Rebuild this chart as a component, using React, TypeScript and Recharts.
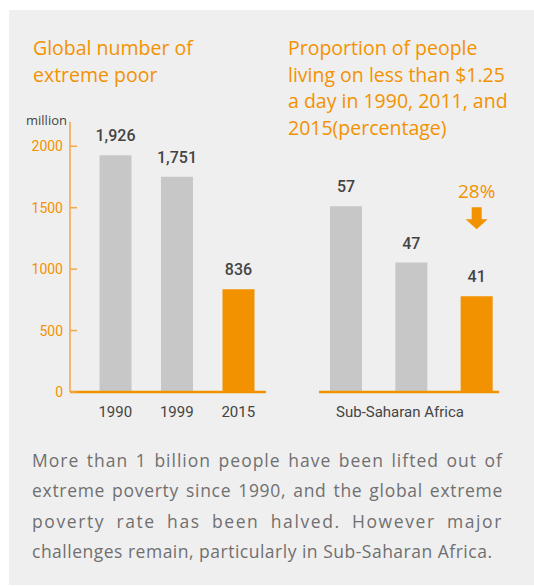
import { BarChart, Bar, XAxis, YAxis, Cell, LabelList } from "recharts";

const poorYears = ["1990", "1999", "2015"];
const poorMillions = [1926, 1751, 836];
const poorTicks = [0, 500, 1000, 1500, 2000];

const propYears = ["1990", "2011", "2015"];
const propPercent = [57, 47, 41];
const propRegion = "Sub-Saharan Africa";
const propDecline = "28%";

const highlightYear = "2015";

const summaryLines = [
  "More than 1 billion people have been lifted out of",
  "extreme poverty since 1990, and the global extreme",
  "poverty rate has been halved. However major",
  "challenges remain, particularly in Sub-Saharan Africa.",
];
// the original spreads the third line by letters rather than words
const summarySpacing = [1.0, 0.7, 1.6, 0.5];

const ORANGE = "#f39200";
const GREY_BAR = "#c6c7c6";
const PANEL = "#efefef";
const DARK = "#444444";
const NUM_FONT = "Roboto, sans-serif";
const TEXT_FONT = "'Open Sans', sans-serif";

const poorData = poorYears.map((year, i) => ({ year, value: poorMillions[i] }));
const propData = propYears.map((year, i) => ({ year, value: propPercent[i] }));

// y ticks on the left chart point inward, so draw them ourselves
const PoorTick = (props: any) => {
  const { x, y, payload } = props;
  return (
    <g>
      <line x1={x + 7} x2={x + 14} y1={y} y2={y} stroke="#f5a54a" strokeWidth={1.5} />
      <text x={x} y={y} dy={5} textAnchor="end" fill={ORANGE} fontSize={14} fontFamily={NUM_FONT}>
        {payload.value}
      </text>
    </g>
  );
};

const RegionTick = (props: any) => {
  const { x, y, index } = props;
  if (index !== 1) return null;
  return (
    <text x={x - 11} y={y} dy={11} textAnchor="middle" fill={DARK} fontSize={15} fontFamily={NUM_FONT}>
      {propRegion}
    </text>
  );
};

const DeclineNote = (props: any) => {
  const vb = props.viewBox ?? props;
  if (props.index !== propData.length - 1) return null;
  const cx = vb.x + vb.width / 2;
  const top = vb.y;
  return (
    <g>
      <text x={cx} y={top - 98} textAnchor="middle" fill={ORANGE} fontSize={19} fontFamily={TEXT_FONT}>
        {propDecline}
      </text>
      <polygon
        points={`${cx - 5},${top - 89} ${cx + 5},${top - 89} ${cx + 5},${top - 77} ${cx + 11},${top - 77} ${cx},${top - 67} ${cx - 11},${top - 77} ${cx - 5},${top - 77}`}
        fill={ORANGE}
      />
    </g>
  );
};

const valueLabel = {
  fill: DARK,
  fontSize: 16,
  fontWeight: 500,
  fontFamily: NUM_FONT,
};

const titleStyle = {
  position: "absolute" as const,
  top: 35,
  color: ORANGE,
  fontFamily: TEXT_FONT,
  fontSize: 19.5,
  lineHeight: "26.7px",
  whiteSpace: "nowrap" as const,
};

export default function App() {
  return (
    <div style={{ position: "absolute", left: 0, top: 0, width: 534, height: 587, background: "#fff", overflow: "hidden" }}>
      <div style={{ position: "absolute", left: 9, top: 10, width: 525, height: 575, background: PANEL }} />

      <div style={{ ...titleStyle, left: 33 }}>
        Global number of
        <br />
        extreme poor
      </div>
      <div style={{ ...titleStyle, left: 288 }}>
        Proportion of people
        <br />
        living on less than $1.25
        <br />a day in 1990, 2011, and
        <br />
        2015(percentage)
      </div>

      <div
        style={{
          position: "absolute",
          left: 26,
          top: 111,
          color: DARK,
          fontFamily: TEXT_FONT,
          fontSize: 13,
          lineHeight: "18px",
        }}
      >
        million
      </div>

      <div style={{ position: "absolute", left: 0, top: 100 }}>
        <BarChart width={280} height={330} data={poorData} margin={{ top: 21.7, right: 14, bottom: 0, left: 10 }}>
          <YAxis
            type="number"
            domain={[0, 2200]}
            ticks={poorTicks}
            width={60}
            axisLine={{ stroke: "#f5a54a", strokeWidth: 1.5 }}
            tickLine={false}
            tickSize={0}
            tickMargin={7}
            tick={<PoorTick />}
            interval={0}
          />
          <XAxis
            dataKey="year"
            height={38}
            padding={{ left: 14.5, right: -3 }}
            axisLine={{ stroke: ORANGE, strokeWidth: 2.5 }}
            tickLine={false}
            tickSize={0}
            tickMargin={14}
            tick={{ fill: DARK, fontSize: 15, fontFamily: NUM_FONT }}
          />
          <Bar dataKey="value" barSize={32} isAnimationActive={false}>
            {poorData.map((d) => (
              <Cell key={d.year} fill={d.year === highlightYear ? ORANGE : GREY_BAR} />
            ))}
            <LabelList
              dataKey="value"
              position="top"
              offset={14}
              formatter={(v: any) => Number(v).toLocaleString("en-US")}
              style={valueLabel}
            />
          </Bar>
        </BarChart>
      </div>

      <div style={{ position: "absolute", left: 270, top: 100 }}>
        <BarChart width={264} height={330} data={propData} margin={{ top: 50, right: 35, bottom: 0, left: 49 }}>
          <YAxis type="number" domain={[24, 67]} hide />
          <XAxis
            dataKey="year"
            height={38}
            padding={{ left: -6, right: -10 }}
            axisLine={{ stroke: ORANGE, strokeWidth: 2.5 }}
            tickLine={false}
            tickSize={0}
            tickMargin={14}
            tick={<RegionTick />}
            interval={0}
          />
          <Bar dataKey="value" barSize={32} isAnimationActive={false}>
            {propData.map((d) => (
              <Cell key={d.year} fill={d.year === highlightYear ? ORANGE : GREY_BAR} />
            ))}
            <LabelList dataKey="value" position="top" offset={14} style={valueLabel} />
            <LabelList dataKey="value" content={<DeclineNote />} />
          </Bar>
        </BarChart>
      </div>

      <div
        style={{
          position: "absolute",
          left: 32,
          top: 445,
          width: 471,
          color: "#707070",
          fontFamily: TEXT_FONT,
          fontSize: 17.5,
          lineHeight: "30.3px",
        }}
      >
        {summaryLines.map((line, i) => (
          <div
            key={i}
            style={{
              whiteSpace: "nowrap",
              letterSpacing: summarySpacing[i],
              textAlign: "justify",
              textAlignLast: i < summaryLines.length - 1 ? "justify" : "left",
            }}
          >
            {line}
          </div>
        ))}
      </div>
    </div>
  );
}
